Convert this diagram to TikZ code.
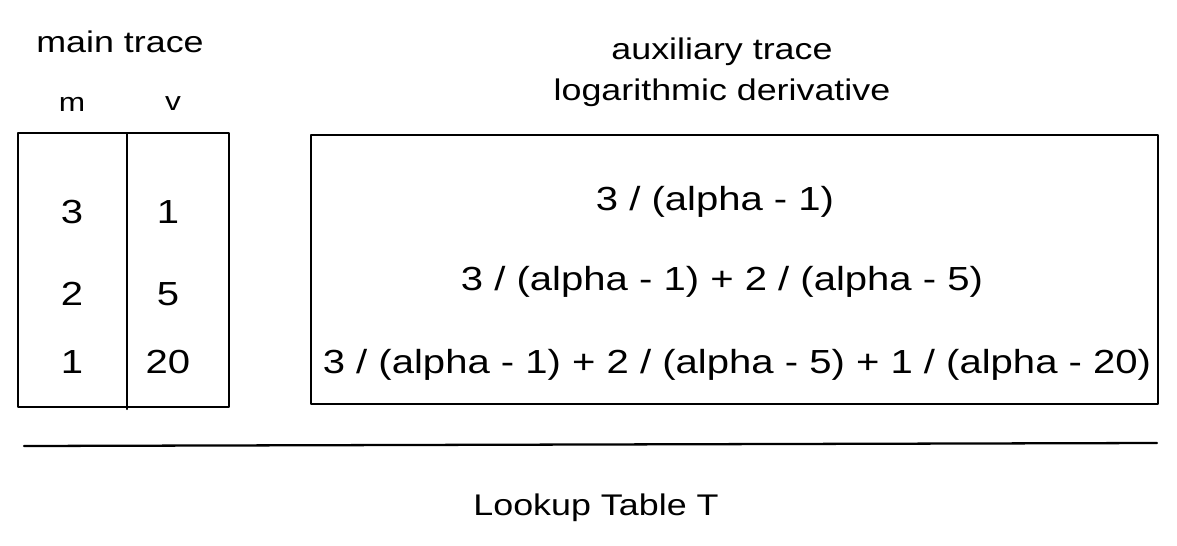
\documentclass[tikz,border=0pt]{standalone}
\usepackage{fontspec}
\setmainfont[FakeStretch=1.2]{Liberation Sans}
\usepackage{tikz}
\usetikzlibrary{calc}

\tikzset{
    sketch/.style={line width=1.3pt, line cap=round, line join=round},
    big/.style={font=\fontsize{17}{20}\selectfont, inner sep=0pt},
    cell/.style={font=\fontsize{19}{22}\selectfont, inner sep=0pt},
    head/.style={font=\fontsize{15}{18}\selectfont, inner sep=0pt}
}

\begin{document}
\begin{tikzpicture}[x=0.02cm,y=-0.02cm]
    \useasboundingbox (0,0) rectangle (1177,545);
    % main trace table
    \node[big] (maintitle) at (120,42) {main trace};
    \node[head] (colm) at (72,104) {m};
    \node[head] (colv) at (173,104) {v};
    \draw[sketch] (18,133) rectangle (229,407);
    \draw[sketch] (127,134) coordinate (divtop) -- (127,409) coordinate (divbot);
    \foreach \m/\v/\y in {3/1/212, 2/5/294, 1/20/362}
        {
        \node[cell] (m\m) at (72,\y) {\m};
        \node[cell] (v\v) at (168,\y) {\v};
        }
    % auxiliary trace
    \node[big] (auxtitle) at (722,52) {auxiliary trace};
    \node[big] (auxsub) at (722,93) {logarithmic derivative};
    \draw[sketch] (311,135) rectangle (1158,404);
    \node[cell] (row1) at (715,202) {3 / (alpha - 1)};
    \node[cell] (row2) at (722,282) {3 / (alpha - 1) + 2 / (alpha - 5)};
    \node[cell] (row3) at (737,365) {3 / (alpha - 1) + 2 / (alpha - 5) + 1 / (alpha - 20)};
    % lookup table
    \coordinate (sepl) at (24,446);
    \coordinate (sepr) at (1157,443);
    \draw[sketch] (sepl) -- (sepr);
    \node[big] (lookup) at (596,508) {Lookup Table T};
    \end{tikzpicture}
\end{document}
